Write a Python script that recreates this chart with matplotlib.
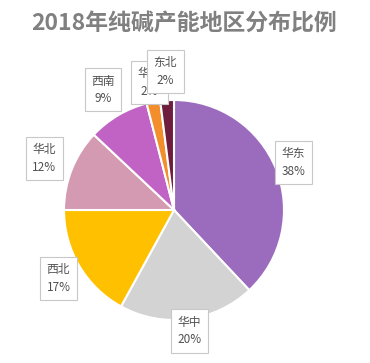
import numpy as np
import matplotlib.pyplot as plt

plt.rcParams['font.family'] = ['Noto Sans CJK SC', 'DejaVu Sans']

regions = ['华东', '华中', '西北', '华北', '西南', '华南', '东北']
shares = [38, 20, 17, 12, 9, 2, 2]
colors = ['#9B6CBE', '#D3D3D3', '#FFC000', '#D49AB2', '#C163C4', '#F28E2B', '#6E1E3C']
label_dist = [1.17, 1.11, 1.22, 1.27, 1.27, 1.18, 1.26]

W, H = 370, 363
fig = plt.figure(figsize=(W / 100, H / 100), dpi=100)

# pie centre and radius in pixels (from top-left)
cx, cy, r = 174, 210, 110
ax = fig.add_axes([(cx - r) / W, (H - cy - r) / H, 2 * r / W, 2 * r / H])

wedges, _ = ax.pie(shares, colors=colors, startangle=90, counterclock=False,
                   radius=1, wedgeprops=dict(edgecolor='white', linewidth=1.5))
ax.set_xlim(-1, 1)
ax.set_ylim(-1, 1)
ax.set_aspect('equal')
ax.axis('off')

for i, (w, name, val) in enumerate(zip(wedges, regions, shares)):
    ang = np.deg2rad((w.theta1 + w.theta2) / 2)
    d = label_dist[i]
    ax.text(d * np.cos(ang), d * np.sin(ang), f'{name}\n{val}%',
            ha='center', va='center', fontsize=8.5, color='#505050',
            linespacing=1.45, zorder=10 + i, clip_on=False,
            bbox=dict(boxstyle='square,pad=0.55', fc='white', ec='#C8C8C8', lw=0.8))

fig.text(0.497, 0.935, '2018年纯碱产能地区分布比例', ha='center', va='center',
         fontsize=16.5, fontweight='bold', color='#808080')

fig.savefig('out.png', dpi=100)
